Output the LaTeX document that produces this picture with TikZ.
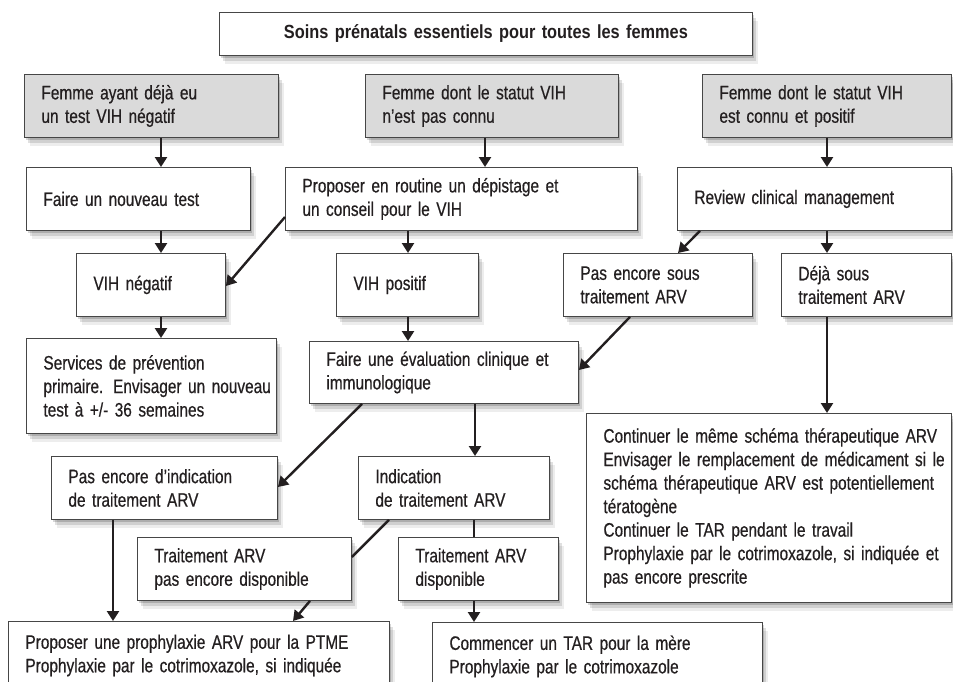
\documentclass[tikz,border=0pt]{standalone}
\usepackage{fontspec}
\setmainfont{Liberation Sans}[FakeStretch=0.79,FakeBold=0.5]
\newfontfamily\titlefont{Liberation Sans}[FakeStretch=0.86]
\usetikzlibrary{arrows.meta,shadows}
\definecolor{ink}{RGB}{35,31,32}
\definecolor{edge}{RGB}{70,70,70}
\definecolor{grayfill}{RGB}{218,218,218}
\newcommand\M[1]{\mbox{#1}}
\begin{document}
\begin{tikzpicture}[x=1pt,y=-1pt,
  shad/.style={drop shadow={shadow xshift=2pt,shadow yshift=-3pt,opacity=0.16,fill=black},
               drop shadow={shadow xshift=4pt,shadow yshift=-6pt,opacity=0.12,fill=black},
               drop shadow={shadow xshift=6pt,shadow yshift=-9pt,opacity=0.07,fill=black}},
  bx/.style={draw=edge, line width=0.9pt, fill=white, shad, anchor=north west, align=left,
             inner xsep=17pt, inner ysep=0pt, text=ink, font=\fontsize{19.5}{23.5}\selectfont},
  gbx/.style={bx, fill=grayfill},
  arr/.style={draw=ink, line width=2.4pt, -{Triangle[length=10pt,width=12pt]}},
  ln/.style={draw=ink, line width=2.4pt}
]
\useasboundingbox (0,0) rectangle (953,681);
\clip (0,0) rectangle (953,681);
\fill[white] (0,0) rectangle (953,681);

\node[bx, align=center, inner xsep=0pt, text width=533pt, minimum height=43pt,
      font=\titlefont\bfseries\fontsize{19}{22}\selectfont] (title) at (219,12)
      {Soins prénatals essentiels pour toutes les femmes};

\node[gbx, text width=220pt, minimum height=63pt] (g1) at (24,74)
  {\M{Femme ayant déjà eu}\\\M{un test VIH négatif}};
\node[gbx, text width=219pt, minimum height=63pt] (g2) at (365,74)
  {\M{Femme dont le statut VIH}\\\M{n'est pas connu}};
\node[gbx, text width=215pt, minimum height=63pt] (g3) at (702,74)
  {\M{Femme dont le statut VIH}\\\M{est connu et positif}};

\node[bx, text width=190pt, minimum height=63pt] (newtest) at (26,167)
  {\M{Faire un nouveau test}};
\node[bx, text width=318pt, minimum height=63pt] (propose) at (285,167)
  {\M{Proposer en routine un dépistage et}\\\M{un conseil pour le VIH}};
\node[bx, text width=240pt, minimum height=63pt] (review) at (677,167)
  {\M{Review clinical management}};

\node[bx, text width=115pt, minimum height=63pt] (vihneg) at (76,253)
  {\M{VIH négatif}};
\node[bx, text width=108pt, minimum height=63pt] (vihpos) at (336,253)
  {\M{VIH positif}};
\node[bx, text width=155pt, minimum height=63pt] (pasarv) at (563,253)
  {\M{Pas encore sous}\\\M{traitement ARV}};
\node[bx, text width=136pt, minimum height=63pt] (dejaarv) at (781,253)
  {\M{Déjà sous}\\\M{traitement ARV}};

\node[bx, text width=216pt, minimum height=95pt] (services) at (26,338)
  {\M{Services de prévention}\\\M{primaire. Envisager un nouveau}\\\M{test à +/- 36 semaines}};
\node[bx, text width=235pt, minimum height=62pt] (eval) at (309,341)
  {\M{Faire une évaluation clinique et}\\\M{immunologique}};

\node[bx, text width=331pt, minimum height=189pt] (bigbox) at (586,413)
  {\M{Continuer le même schéma thérapeutique ARV}\\
   \M{Envisager le remplacement de médicament si le}\\
   \M{schéma thérapeutique ARV est potentiellement}\\
   \M{tératogène}\\
   \M{Continuer le TAR pendant le travail}\\
   \M{Prophylaxie par le cotrimoxazole, si indiquée et}\\
   \M{pas encore prescrite}};

\node[bx, text width=192pt, minimum height=63pt] (pasind) at (51,456)
  {\M{Pas encore d’indication}\\\M{de traitement ARV}};
\node[bx, text width=157pt, minimum height=63pt] (ind) at (358,456)
  {\M{Indication}\\\M{de traitement ARV}};

\node[bx, text width=180pt, minimum height=63pt] (tpas) at (137,537)
  {\M{Traitement ARV}\\\M{pas encore disponible}};
\node[bx, text width=126pt, minimum height=63pt] (tdispo) at (398,537)
  {\M{Traitement ARV}\\\M{disponible}};

\node[bx, text width=347pt, minimum height=68pt] (prop2) at (8,621)
  {\M{Proposer une prophylaxie ARV pour la PTME}\\\M{Prophylaxie par le cotrimoxazole, si indiquée}};
\node[bx, text width=296pt, minimum height=68pt] (commence) at (432,622)
  {\M{Commencer un TAR pour la mère}\\\M{Prophylaxie par le cotrimoxazole}};

% connectors
\draw[arr] ([xshift=137pt]g1.south west) -- ([xshift=135pt]newtest.north west);
\draw[arr] ([xshift=120pt]g2.south west) -- ([xshift=200pt]propose.north west);
\draw[arr] ([xshift=125pt]g3.south west) -- ([xshift=150pt]review.north west);
\draw[arr] ([xshift=135pt]newtest.south west) -- ([xshift=85pt]vihneg.north west);
\draw[arr] ([yshift=-50pt]propose.north west) -- ([yshift=-33pt]vihneg.north east);
\draw[arr] ([xshift=123pt]propose.south west) -- ([xshift=72pt]vihpos.north west);
\draw[arr] ([xshift=23pt]review.south west) -- ([xshift=115pt]pasarv.north west);
\draw[arr] ([xshift=150pt]review.south west) -- ([xshift=46pt]dejaarv.north west);
\draw[arr] ([xshift=85pt]vihneg.south west) -- ([xshift=135pt]services.north west);
\draw[arr] ([xshift=72pt]vihpos.south west) -- ([xshift=99pt]eval.north west);
\draw[arr] ([xshift=67pt]pasarv.south west) -- ([yshift=-29pt]eval.north east);
\draw[arr] ([xshift=46pt]dejaarv.south west) -- ([xshift=241pt]bigbox.north west);
\draw[arr] ([xshift=53pt]eval.south west) -- ([yshift=-31pt]pasind.north east);
\draw[arr] ([xshift=166pt]eval.south west) -- ([xshift=117pt]ind.north west);
\draw[ln] ([xshift=31pt]ind.south west) -- ([yshift=-20pt]tpas.north east);
\draw[ln] ([xshift=116pt]ind.south west) -- ([xshift=76pt]tdispo.north west);
\draw[arr] ([xshift=62pt]pasind.south west) -- ([xshift=105pt]prop2.north west);
\draw[arr] ([xshift=173pt]tpas.south west) -- ([xshift=285pt]prop2.north west);
\draw[arr] ([xshift=76pt]tdispo.south west) -- ([xshift=42pt]commence.north west);
\end{tikzpicture}
\end{document}
